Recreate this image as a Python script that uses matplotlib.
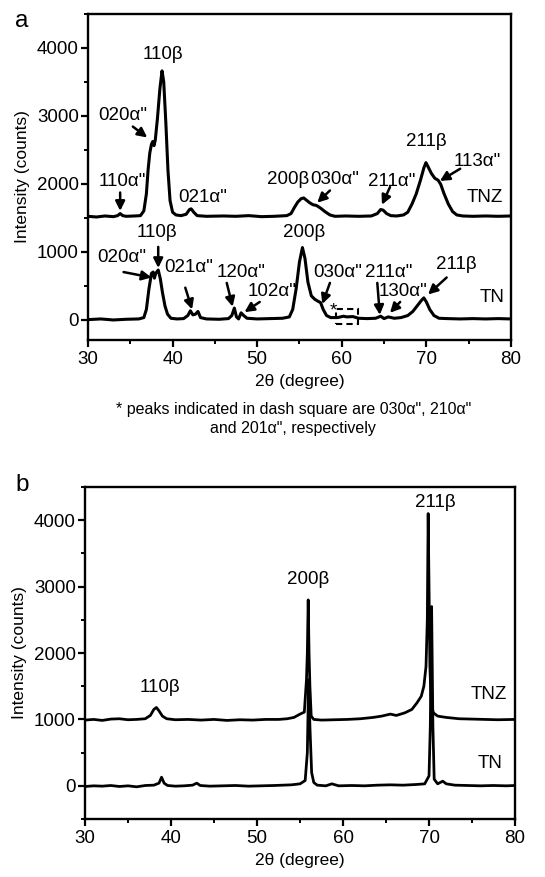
import matplotlib
matplotlib.use("Agg")
import matplotlib.pyplot as plt
from matplotlib.patches import Rectangle
from matplotlib.ticker import MultipleLocator

plt.rcParams['font.family'] = ['Liberation Sans', 'DejaVu Sans']

# ---------------- Panel a data (as-deposited) ----------------
a_tnz_x = [30.0, 31.0, 32.0, 33.0, 33.5, 33.8, 34.1, 34.5, 35.5, 36.2, 36.6, 36.9, 37.1, 37.3,
           37.5, 37.65, 37.8, 37.95, 38.2, 38.5, 38.75, 38.95, 39.2, 39.45, 39.7, 40.0, 40.4,
           41.0, 41.6, 42.0, 42.2, 42.5, 42.9, 44.0, 46.0, 47.5, 49.0, 50.5, 52.0, 53.5, 54.0,
           54.4, 54.8, 55.2, 55.5, 55.8, 56.2, 56.6, 57.0, 57.5, 58.0, 58.6, 59.2, 60.5, 62.0,
           63.5, 64.2, 64.6, 64.9, 65.3, 65.8, 66.5, 67.3, 67.8, 68.3, 68.8, 69.3, 69.7, 69.95,
           70.2, 70.6, 71.0, 71.4, 71.7, 72.1, 72.6, 73.1, 73.6, 74.3, 75.5, 77.0, 78.5, 80.0]
a_tnz_y = [1520, 1510, 1525, 1515, 1530, 1560, 1530, 1520, 1525, 1530, 1600, 1850, 2200, 2450,
           2580, 2620, 2560, 2640, 2950, 3400, 3660, 3500, 2900, 2200, 1750, 1580, 1540,
           1530, 1550, 1620, 1630, 1580, 1530, 1520, 1525, 1520, 1530, 1515, 1520, 1530, 1560,
           1650, 1730, 1780, 1790, 1760, 1720, 1690, 1680, 1640, 1590, 1540, 1520, 1525, 1520,
           1525, 1560, 1620, 1610, 1560, 1530, 1525, 1540, 1580, 1700, 1850, 2050, 2230, 2310,
           2250, 2150, 2080, 2050, 1990, 1850, 1700, 1590, 1540, 1525, 1520, 1525, 1520, 1525]

a_tn_x = [30.0, 31.5, 33.0, 34.5, 36.0, 36.6, 36.9, 37.2, 37.5, 37.7, 37.85, 38.0, 38.3, 38.55,
          38.8, 39.1, 39.4, 39.8, 40.5, 41.3, 41.8, 42.1, 42.4, 42.7, 43.0, 43.3, 44.0, 45.5,
          46.6, 47.0, 47.3, 47.55, 47.8, 48.1, 48.4, 48.8, 50.0, 51.5, 53.0, 53.8, 54.2, 54.6,
          55.0, 55.35, 55.65, 56.0, 56.4, 56.8, 57.2, 57.5, 57.8, 58.2, 58.7, 59.5, 60.2, 60.6,
          61.3, 62.0, 63.0, 64.0, 64.6, 65.0, 65.5, 66.2, 67.0, 67.8, 68.4, 68.9, 69.4, 69.7,
          70.0, 70.4, 70.9, 71.5, 72.5, 74.0, 75.5, 77.0, 78.5, 80.0]
a_tn_y = [0, 10, -5, 5, 10, 30, 150, 450, 680, 700, 610, 680, 730, 600,
          400, 200, 80, 20, 10, 15, 60, 130, 70, 80, 120, 30, 10, 5,
          15, 60, 170, 40, 10, 100, 60, 20, 10, 15, 20, 40, 150, 450,
          850, 1060, 900, 550, 350, 300, 270, 250, 150, 60, 30, 30, 50, 40,
          45, 20, 15, 20, 50, 15, 40, 20, 30, 60, 120, 200, 280, 320,
          260, 150, 60, 20, 15, 10, 15, 10, 15, 10]

# ---------------- Panel b data (annealed) ----------------
b_tnz_x = [30.0, 31.0, 32.0, 33.0, 34.0, 35.0, 36.0, 37.0, 37.6, 38.0, 38.3, 38.6, 39.0, 39.5,
           40.5, 42.0, 43.5, 45.0, 46.5, 48.0, 49.5, 51.0, 52.5, 53.5, 54.3, 55.0, 55.5, 55.75,
           55.85, 55.95, 56.05, 56.15, 56.3, 56.6, 57.5, 59.0, 60.5, 62.0, 63.5, 64.5, 65.5,
           66.2, 67.2, 68.0, 68.6, 69.1, 69.4, 69.65, 69.8, 69.9, 70.0, 70.1, 70.25, 70.5,
           71.0, 72.0, 73.5, 75.0, 76.5, 78.0, 80.0]
b_tnz_y = [990, 1000, 985, 1005, 1010, 995, 1000, 1010, 1060, 1150, 1180, 1130, 1050, 1010,
           995, 1000, 990, 1000, 985, 995, 990, 1000, 1000, 1010, 1030, 1080, 1110, 1600,
           2000, 2800, 2000, 1500, 1050, 1000, 990, 995, 1000, 1010, 1030, 1050, 1080,
           1060, 1100, 1150, 1250, 1350, 1500, 1800, 2500, 4100, 3000, 1800, 1250, 1100,
           1050, 1030, 1010, 1005, 1000, 995, 1000]

b_tn_x = [30.0, 31.0, 32.0, 33.0, 34.0, 35.0, 36.0, 37.0, 38.0, 38.6, 38.9, 39.2, 39.6, 40.5,
          41.5, 42.5, 43.0, 43.4, 44.5, 46.0, 47.5, 49.0, 50.5, 52.0, 53.0, 54.0, 55.0, 55.6,
          55.85, 56.0, 56.15, 56.35, 56.6, 57.0, 58.0, 58.7, 59.5, 61.0, 62.5, 64.0, 65.5,
          67.0, 68.5, 69.5, 70.0, 70.15, 70.3, 70.45, 70.6, 71.0, 71.6, 72.0, 73.0, 74.5,
          76.0, 77.5, 79.0, 80.0]
b_tn_y = [-10, 0, -5, 5, -10, 0, -15, 5, 10, 40, 130, 40, 5, -5,
          0, 10, 40, 5, -5, 0, 5, -5, 0, 5, 10, 15, 30, 80,
          500, 1600, 900, 200, 50, 10, 0, 30, 0, 5, 0, 10, 15,
          10, 20, 30, 150, 900, 2700, 900, 100, 30, 70, 30, 10, 5,
          0, 5, 0, 5]

xticks = [30, 40, 50, 60, 70, 80]
yticks = [0, 1000, 2000, 3000, 4000]

A = '\u03b1"'
B = '\u03b2'

fig = plt.figure(figsize=(5.45, 8.77), dpi=100)
axa = fig.add_axes([0.1615, 0.6123, 0.776, 0.372])
axb = fig.add_axes([0.156, 0.0661, 0.789, 0.3786])

FS = 13.5
LW = 2.2

for ax in (axa, axb):
    ax.set_xlim(30, 80)
    ax.set_xticks(xticks)
    ax.set_yticks(yticks)
    ax.xaxis.set_minor_locator(MultipleLocator(5))
    ax.yaxis.set_minor_locator(MultipleLocator(500))
    ax.tick_params(which='major', direction='out', length=5, width=1.6, labelsize=FS, pad=1.5)
    ax.tick_params(which='minor', direction='out', length=3, width=1.4)
    ax.tick_params(axis='x', which='major', pad=3)
    ax.tick_params(top=False, right=False)
    for s in ax.spines.values():
        s.set_linewidth(1.7)
    ax.set_xlabel('2\u03b8 (degree)', fontsize=12.5, labelpad=4)
    ax.set_ylabel('Intensity (counts)', fontsize=12.5, labelpad=5)

axa.set_ylim(-300, 4500)
axb.set_ylim(-500, 4500)

axa.plot(a_tnz_x, a_tnz_y, color='black', lw=LW, solid_joinstyle='round')
axa.plot(a_tn_x, a_tn_y, color='black', lw=LW, solid_joinstyle='round')
axb.plot(b_tnz_x, b_tnz_y, color='black', lw=LW * 0.9, solid_joinstyle='round')
axb.plot(b_tn_x, b_tn_y, color='black', lw=LW * 0.9, solid_joinstyle='round')

arrow = dict(arrowstyle='-|>', color='black', lw=1.8, mutation_scale=14, shrinkA=0, shrinkB=0)

def lab(ax, text, x, y, ha='center'):
    ax.text(x, y, text, fontsize=FS, ha=ha, va='center')

def arr(ax, x0, y0, x1, y1):
    ax.annotate('', xy=(x1, y1), xytext=(x0, y0), arrowprops=arrow)

# Panel a labels – TNZ
lab(axa, '110' + B, 38.9, 3900)
lab(axa, '020' + A, 34.1, 3010)
arr(axa, 35.3, 2840, 37.0, 2680)
lab(axa, '110' + A, 34.0, 2030)
arr(axa, 33.8, 1870, 33.8, 1600)
lab(axa, '021' + A, 43.6, 1800)
lab(axa, '200' + B, 53.6, 2060)
lab(axa, '030' + A, 59.2, 2060)
arr(axa, 58.6, 1900, 57.1, 1720)
lab(axa, '211' + A, 65.9, 2030)
arr(axa, 65.7, 1950, 64.75, 1690)
lab(axa, '211' + B, 70.0, 2620)
lab(axa, '113' + A, 76.0, 2330)
arr(axa, 74.0, 2220, 71.6, 2040)
lab(axa, 'TNZ', 76.9, 1800)

# Panel a labels – TN
lab(axa, '110' + B, 38.2, 1280)
arr(axa, 38.3, 1070, 38.3, 760)
lab(axa, '020' + A, 34.0, 910)
arr(axa, 34.2, 700, 37.5, 620)
lab(axa, '021' + A, 41.9, 765)
arr(axa, 41.5, 470, 42.3, 150)
lab(axa, '120' + A, 48.1, 700)
arr(axa, 46.4, 540, 47.1, 190)
lab(axa, '102' + A, 51.8, 410)
arr(axa, 50.3, 260, 48.5, 110)
lab(axa, '200' + B, 55.6, 1280)
lab(axa, '030' + A, 59.5, 690)
arr(axa, 58.6, 540, 57.7, 230)
lab(axa, '211' + A, 65.6, 700)
arr(axa, 64.2, 540, 64.5, 70)
lab(axa, '130' + A, 67.2, 410)
arr(axa, 66.9, 260, 65.7, 100)
lab(axa, '211' + B, 73.6, 810)
arr(axa, 72.4, 620, 70.2, 370)
lab(axa, 'TN', 77.8, 320)

axa.add_patch(Rectangle((59.3, -60), 2.6, 210, fill=False, ls=(0, (3, 2)), lw=1.5, ec='black'))
axa.text(59.0, 120, '*', fontsize=FS, ha='center', va='center')

# Panel b labels
lab(axb, '211' + B, 70.7, 4270)
lab(axb, '200' + B, 55.9, 3100)
lab(axb, '110' + B, 38.7, 1480)
lab(axb, 'TNZ', 76.9, 1380)
lab(axb, 'TN', 77.1, 330)

fig.text(0.04, 0.976, 'a', fontsize=17.5, ha='center', va='center')
fig.text(0.04, 0.447, 'b', fontsize=17.5, ha='center', va='center')
fig.text(0.538, 0.533, '* peaks indicated in dash square are 030' + A + ', 210' + A,
         fontsize=11.5, ha='center', va='center')
fig.text(0.538, 0.511, 'and 201' + A + ', respectively', fontsize=11.5, ha='center', va='center')

fig.savefig('out.png', dpi=100)
